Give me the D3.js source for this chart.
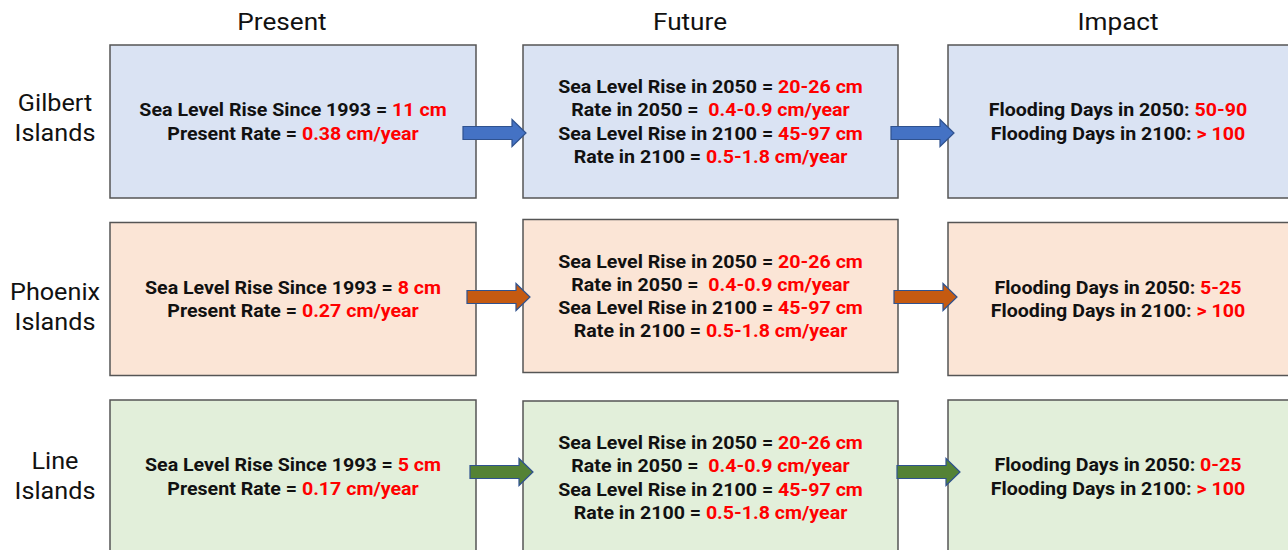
<!DOCTYPE html>
<html>
<head>
<meta charset="utf-8">
<script src="https://cdn.jsdelivr.net/npm/d3@7"></script>
<style>
  html, body { margin: 0; padding: 0; background: #fff; }
  svg { display: block; font-family: Roboto, "Liberation Sans", Arial, sans-serif; }
</style>
</head>
<body>
<svg id="chart" width="1288" height="550"></svg>
<script>
// ---------- data ----------
const columns = ["Present", "Future", "Impact"];
const regions = ["Gilbert Islands", "Phoenix Islands", "Line Islands"];
const regionLabels = [["Gilbert", "Islands"], ["Phoenix", "Islands"], ["Line", "Islands"]];
const riseSince1993 = ["11 cm", "8 cm", "5 cm"];
const presentRate = ["0.38 cm/year", "0.27 cm/year", "0.17 cm/year"];
const rise2050 = ["20-26 cm", "20-26 cm", "20-26 cm"];
const rate2050 = ["0.4-0.9 cm/year", "0.4-0.9 cm/year", "0.4-0.9 cm/year"];
const rise2100 = ["45-97 cm", "45-97 cm", "45-97 cm"];
const rate2100 = ["0.5-1.8 cm/year", "0.5-1.8 cm/year", "0.5-1.8 cm/year"];
const flood2050 = ["50-90", "5-25", "0-25"];
const flood2100 = ["> 100", "> 100", "> 100"];

// ---------- styles / layout ----------
const fills = ["#dae3f3", "#fbe5d6", "#e2efda"];
const arrowFills = ["#4472c4", "#c55a11", "#548235"];
const red = "#ff0000";

const svg = d3.select("#chart");

const y = d3.scaleBand().domain(regions).range([45, 553]).paddingInner(0.138).paddingOuter(0);
const colX = d3.scaleOrdinal().domain(columns).range([[110, 476], [523, 898], [948, 1300]]);
const colCenter = d3.scaleOrdinal().domain(columns).range([282, 690, 1118]);
const colShift = [[0, 0, 0], [0, -3, 0], [0, 1, 0]];

function stretchedText(parent, x, yy, sx) {
  return parent.append("g")
    .attr("transform", `translate(${x},${yy}) scale(${sx},1)`)
    .append("text")
    .attr("x", 0).attr("y", 0)
    .attr("text-anchor", "middle");
}

// headers
columns.forEach(c => {
  stretchedText(svg, colCenter(c), 30, 1.09)
    .attr("font-size", 24)
    .attr("fill", "#111")
    .text(c);
});

// rows
const rowCenterOffset = [-4, 8, 0];
regions.forEach((r, i) => {
  const top = y(r), h = y.bandwidth(), cy = top + h / 2;

  // boxes
  columns.forEach((c, j) => {
    const [x0, x1] = colX(c);
    svg.append("rect")
      .attr("x", x0).attr("y", top + colShift[i][j])
      .attr("width", x1 - x0).attr("height", h)
      .attr("fill", fills[i])
      .attr("stroke", "#555").attr("stroke-width", 1.5);
  });

  // row label
  regionLabels[i].forEach((t, k) => {
    stretchedText(svg, 55, cy + rowCenterOffset[i] + (k - 0.5) * 30 + 8, 1.05)
      .attr("font-size", 24)
      .attr("fill", "#111")
      .text(t);
  });

  // texts
  const contents = [
    [["Sea Level Rise Since 1993 = ", riseSince1993[i]], ["Present Rate = ", presentRate[i]]],
    [["Sea Level Rise in 2050 = ", rise2050[i]], ["Rate in 2050 = \u00a0", rate2050[i]],
     ["Sea Level Rise in 2100 = ", rise2100[i]], ["Rate in 2100 = ", rate2100[i]]],
    [["Flooding Days in 2050: ", flood2050[i]], ["Flooding Days in 2100: ", flood2100[i]]]
  ];
  contents.forEach((lines, j) => {
    const [x0, x1] = colX(columns[j]);
    const cx = j === 2 ? 1118 : (x0 + x1) / 2;
    const boxCy = cy + colShift[i][j];
    lines.forEach((ln, k) => {
      const t = stretchedText(svg, cx, boxCy + (k - (lines.length - 1) / 2) * 23.3 + 6.5, 1.09)
        .attr("font-size", 18)
        .attr("font-weight", "bold");
      t.append("tspan").attr("fill", "#111").text(ln[0]);
      t.append("tspan").attr("fill", red).text(ln[1]);
    });
  });

  // arrows
  const arrowY = [133, 297, 472][i];
  const arrowStarts = [[463, 891], [467, 894], [470, 897]][i];
  arrowStarts.forEach(xs => {
    const len = 63, headL = 14, bh = 6.5, hh = 13.5;
    const xe = xs + len, xh = xe - headL;
    const pts = [[xs, arrowY - bh], [xh, arrowY - bh], [xh, arrowY - hh], [xe, arrowY],
                 [xh, arrowY + hh], [xh, arrowY + bh], [xs, arrowY + bh]];
    svg.append("path")
      .attr("d", d3.line()(pts) + "Z")
      .attr("fill", arrowFills[i])
      .attr("stroke", "#2f528f").attr("stroke-width", 1.2);
  });
});
</script>
</body>
</html>
